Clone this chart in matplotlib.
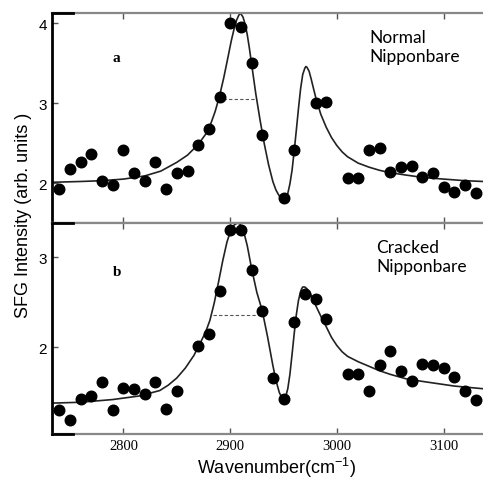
import matplotlib
matplotlib.use("Agg")
import matplotlib.pyplot as plt

plt.rcParams['mathtext.default'] = 'regular'

# measured points, panel a (normal) and b (cracked)
wn_a = [2740, 2750, 2760, 2770, 2780, 2790, 2800, 2810, 2820, 2830, 2840, 2850,
        2860, 2870, 2880, 2890, 2900, 2910, 2920, 2930, 2950, 2960, 2980, 2990,
        3010, 3020, 3030, 3040, 3050, 3060, 3070, 3080, 3090, 3100, 3110, 3120, 3130]
sfg_a = [1.92, 2.18, 2.26, 2.36, 2.02, 1.98, 2.42, 2.12, 2.02, 2.27, 1.92, 2.12,
         2.15, 2.48, 2.68, 3.08, 4.00, 3.95, 3.51, 2.60, 1.81, 2.42, 3.00, 3.02,
         2.06, 2.06, 2.42, 2.44, 2.14, 2.20, 2.21, 2.07, 2.12, 1.95, 1.89, 1.98, 1.88]

wn_b = [2740, 2750, 2760, 2770, 2780, 2790, 2800, 2810, 2820, 2830, 2840, 2850,
        2870, 2880, 2890, 2900, 2910, 2920, 2930, 2940, 2950, 2960, 2970, 2980,
        2990, 3010, 3020, 3030, 3040, 3050, 3060, 3070, 3080, 3090, 3100, 3110,
        3120, 3130]
sfg_b = [1.30, 1.19, 1.43, 1.46, 1.62, 1.30, 1.55, 1.54, 1.48, 1.62, 1.31, 1.52,
         2.02, 2.15, 2.63, 3.30, 3.30, 2.86, 2.40, 1.66, 1.43, 2.28, 2.59, 2.54,
         2.31, 1.70, 1.70, 1.51, 1.80, 1.96, 1.74, 1.63, 1.82, 1.80, 1.77, 1.67,
         1.51, 1.41]

# fit curves
fit_wn_a = [2733, 2760, 2780, 2800, 2820, 2835, 2850, 2860, 2866, 2872, 2878,
            2882, 2886, 2890, 2894, 2898, 2901, 2904, 2906, 2908, 2909, 2910,
            2912, 2914, 2916, 2918, 2920, 2924, 2928, 2932, 2936, 2940, 2943,
            2946, 2948, 2950, 2952, 2954, 2956, 2958, 2960, 2962, 2964, 2966,
            2968, 2970, 2971, 2972, 2974, 2976, 2978, 2981, 2985, 2990, 2995,
            3000, 3005, 3010, 3020, 3030, 3040, 3050, 3065, 3081, 3100, 3120,
            3137]
fit_a = [2.01, 2.02, 2.03, 2.05, 2.09, 2.15, 2.26, 2.35, 2.43, 2.52, 2.63,
         2.75, 2.90, 3.09, 3.32, 3.58, 3.78, 3.95, 4.04, 4.10, 4.12, 4.12,
         4.08, 3.99, 3.86, 3.69, 3.50, 3.12, 2.79, 2.49, 2.23, 2.02, 1.91,
         1.84, 1.80, 1.78, 1.80, 1.87, 1.99, 2.16, 2.40, 2.66, 2.93, 3.18,
         3.36, 3.44, 3.46, 3.45, 3.40, 3.30, 3.19, 3.03, 2.86, 2.70, 2.57,
         2.47, 2.39, 2.33, 2.25, 2.20, 2.16, 2.13, 2.10, 2.07, 2.05, 2.03,
         2.02]

fit_wn_b = [2733, 2760, 2790, 2815, 2834, 2842, 2850, 2858, 2866, 2872, 2877,
            2881, 2885, 2889, 2893, 2897, 2900, 2903, 2905, 2907, 2909, 2911,
            2913, 2916, 2920, 2925, 2930, 2935, 2940, 2943, 2946, 2948, 2950,
            2952, 2954, 2956, 2958, 2960, 2962, 2964, 2966, 2967, 2968, 2970,
            2972, 2975, 2978, 2982, 2986, 2990, 2995, 3000, 3005, 3010, 3020,
            3030, 3040, 3050, 3065, 3081, 3110, 3137]
fit_b = [1.38, 1.39, 1.42, 1.46, 1.52, 1.58, 1.66, 1.77, 1.91, 2.05, 2.17,
         2.30, 2.49, 2.72, 2.96, 3.17, 3.28, 3.35, 3.37, 3.38, 3.37, 3.34,
         3.27, 3.13, 2.88, 2.61, 2.41, 2.12, 1.80, 1.63, 1.50, 1.45, 1.43,
         1.45, 1.54, 1.70, 1.92, 2.15, 2.36, 2.52, 2.62, 2.65, 2.67, 2.67,
         2.65, 2.60, 2.52, 2.42, 2.32, 2.23, 2.11, 2.02, 1.95, 1.90, 1.84,
         1.79, 1.74, 1.70, 1.65, 1.62, 1.57, 1.54]

# dashed FWHM markers
hw_a = ([2893, 2924], 3.05)
hw_b = ([2884, 2932], 2.36)

fig = plt.figure(figsize=(4.83, 4.81), dpi=100)
ax1 = fig.add_axes([0.1077, 0.5343, 0.8923, 0.4366])
ax2 = fig.add_axes([0.1077, 0.0956, 0.8923, 0.4387])

panels = [
    (ax1, wn_a, sfg_a, fit_wn_a, fit_a, hw_a, (1.5, 4.13), [2, 3, 4], "a",
     "Normal\nNipponbare"),
    (ax2, wn_b, sfg_b, fit_wn_b, fit_b, hw_b, (1.037, 3.381), [2, 3], "b",
     "Cracked\nNipponbare"),
]

for ax, x, y, fx, fy, hw, ylim, yt, tag, name in panels:
    ax.plot(fx, fy, color="#222222", lw=1.2, zorder=2)
    ax.plot(x, y, "o", color="black", ms=7.6, zorder=3)
    ax.plot(hw[0], [hw[1], hw[1]], "--", color="#555555", lw=0.8, dashes=(3, 2))
    ax.set_xlim(2733, 3137)
    ax.set_ylim(*ylim)
    ax.set_yticks(yt)
    ax.set_xticks([2800, 2900, 3000, 3100])
    ax.tick_params(direction="in", length=4, width=1, color="#555555",
                   top=True, bottom=True, right=False, labelsize=10)
    for lab in ax.get_yticklabels():
        lab.set_family("Liberation Sans")
        lab.set_fontsize(11)
    ax.spines["right"].set_visible(False)
    ax.spines["left"].set_linewidth(2)
    ax.spines["left"].set_color("black")
    for s in ("top", "bottom"):
        ax.spines[s].set_color("#888888")
        ax.spines[s].set_linewidth(1.6)
    # short black stubs at the left ends of top/bottom spines
    ax.plot([0, 0.048], [0, 0], color="black", lw=2, transform=ax.transAxes,
            clip_on=False, zorder=5)
    ax.plot([0, 0.048], [1, 1], color="black", lw=2, transform=ax.transAxes,
            clip_on=False, zorder=5)
    ax.text(0.14, 0.79 if tag == "a" else 0.77, tag, transform=ax.transAxes,
            family="Liberation Serif", fontweight="bold", fontsize=11,
            ha="left", va="center")
    ax.text(0.737 if tag == "a" else 0.752, 0.84, name, transform=ax.transAxes,
            family="Lato", fontsize=12.5, ha="left", va="center", linespacing=1.2)

ax1.tick_params(labelbottom=False)
for lab in ax2.get_xticklabels():
    lab.set_family("Liberation Serif")
    lab.set_fontsize(10.5)

fig.text(24 / 483, 1 - 215 / 481, "SFG Intensity (arb. units )", rotation=90,
         family="Liberation Sans", fontsize=13, ha="center", va="center")
fig.text(276 / 483, 1 - 468 / 481, "Wavenumber(cm$^{-1}$)",
         family="Liberation Sans", fontsize=13, ha="center", va="center")

fig.savefig("out.png", dpi=100)
